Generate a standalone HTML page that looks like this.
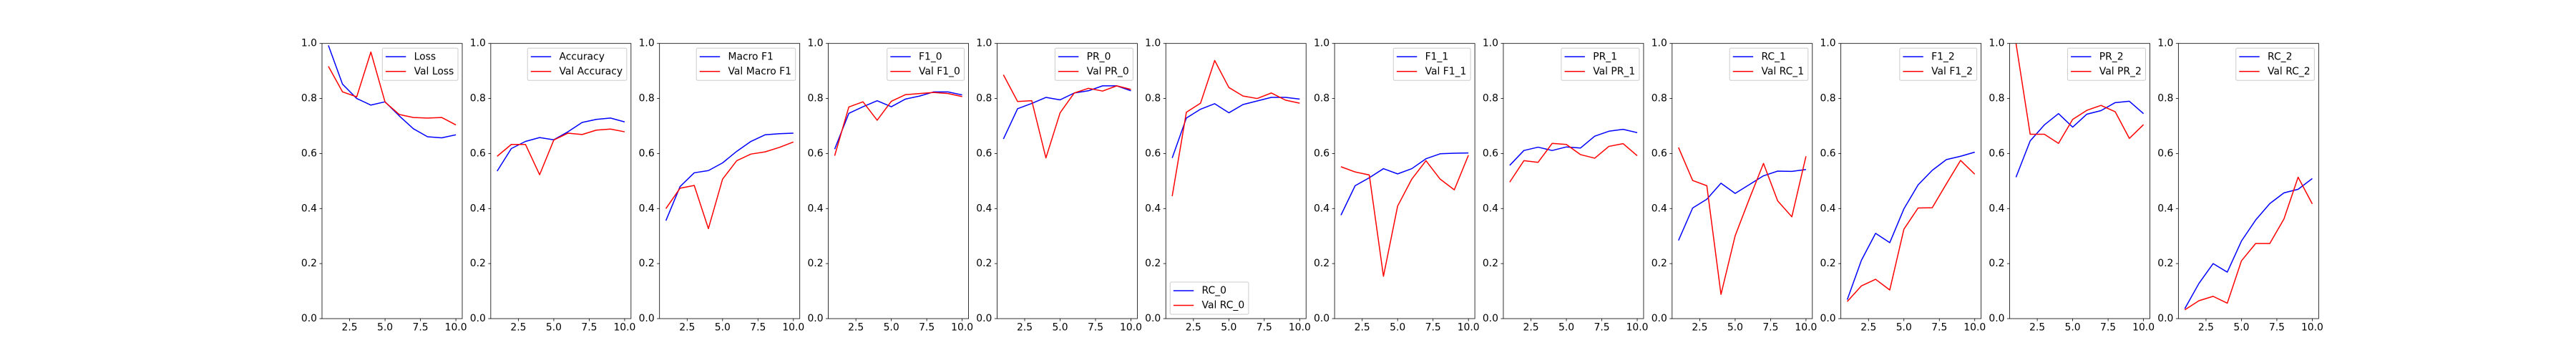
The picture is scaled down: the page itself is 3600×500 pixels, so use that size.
<!DOCTYPE html>
<html><head><meta charset="utf-8"><style>
html,body{margin:0;padding:0;background:#fff;}
svg{display:block;font-family:"DejaVu Sans","Liberation Sans",sans-serif;}
</style></head><body>
<svg id="chart" width="3600" height="500" viewBox="0 0 3600 500" xmlns="http://www.w3.org/2000/svg">
<rect x="0" y="0" width="3600" height="500" fill="#fff"/>
</svg>
<script>
const epochs = [1,2,3,4,5,6,7,8,9,10];
const panelNames = ["Loss","Accuracy","Macro F1","F1_0","PR_0","RC_0","F1_1","PR_1","RC_1","F1_2","PR_2","RC_2"];
const trainLoss = [0.993,0.852,0.800,0.776,0.788,0.737,0.690,0.661,0.657,0.668];
const valLoss = [0.917,0.824,0.806,0.969,0.787,0.742,0.731,0.729,0.731,0.704];
const trainAcc = [0.536,0.618,0.644,0.658,0.650,0.679,0.713,0.724,0.729,0.715];
const valAcc = [0.590,0.633,0.633,0.523,0.649,0.674,0.669,0.685,0.689,0.679];
const trainMacroF1 = [0.356,0.480,0.530,0.538,0.566,0.608,0.644,0.668,0.672,0.674];
const valMacroF1 = [0.400,0.474,0.484,0.327,0.507,0.574,0.598,0.606,0.622,0.642];
const trainF1_0 = [0.616,0.746,0.770,0.792,0.770,0.798,0.809,0.824,0.824,0.813];
const valF1_0 = [0.592,0.769,0.788,0.721,0.790,0.814,0.818,0.822,0.818,0.807];
const trainPR_0 = [0.653,0.763,0.782,0.804,0.795,0.820,0.828,0.846,0.846,0.828];
const valPR_0 = [0.886,0.789,0.792,0.584,0.748,0.820,0.837,0.827,0.846,0.833];
const trainRC_0 = [0.584,0.729,0.761,0.781,0.748,0.778,0.791,0.804,0.804,0.798];
const valRC_0 = [0.445,0.750,0.783,0.938,0.840,0.809,0.800,0.820,0.794,0.783];
const trainF1_1 = [0.376,0.483,0.512,0.545,0.526,0.545,0.581,0.599,0.601,0.602];
const valF1_1 = [0.552,0.533,0.522,0.154,0.409,0.507,0.574,0.507,0.468,0.594];
const trainPR_1 = [0.557,0.611,0.623,0.611,0.624,0.620,0.663,0.681,0.688,0.676];
const valPR_1 = [0.496,0.574,0.568,0.637,0.633,0.596,0.583,0.626,0.636,0.592];
const trainRC_1 = [0.284,0.402,0.434,0.492,0.455,0.487,0.519,0.536,0.535,0.542];
const valRC_1 = [0.622,0.502,0.483,0.088,0.301,0.435,0.564,0.428,0.370,0.590];
const trainF1_2 = [0.069,0.212,0.310,0.276,0.399,0.486,0.539,0.578,0.590,0.605];
const valF1_2 = [0.062,0.119,0.143,0.104,0.325,0.402,0.403,0.490,0.575,0.525];
const trainPR_2 = [0.514,0.646,0.704,0.745,0.696,0.743,0.756,0.785,0.790,0.745];
const valPR_2 = [1.000,0.670,0.670,0.637,0.724,0.757,0.775,0.752,0.655,0.705];
const trainRC_2 = [0.036,0.128,0.200,0.169,0.282,0.358,0.418,0.457,0.470,0.509];
const valRC_2 = [0.032,0.065,0.081,0.056,0.210,0.273,0.273,0.362,0.514,0.417];
const trainSeries = [trainLoss,trainAcc,trainMacroF1,trainF1_0,trainPR_0,trainRC_0,trainF1_1,trainPR_1,trainRC_1,trainF1_2,trainPR_2,trainRC_2];
const valSeries = [valLoss,valAcc,valMacroF1,valF1_0,valPR_0,valRC_0,valF1_1,valPR_1,valRC_1,valF1_2,valPR_2,valRC_2];
const yTicks = [0.0,0.2,0.4,0.6,0.8,1.0];
const yTickLabels = ["0.0","0.2","0.4","0.6","0.8","1.0"];
const xTicks = [2.5,5.0,7.5,10.0];
const xTickLabels = ["2.5","5.0","7.5","10.0"];
const legendLowerLeft = ["RC_0"];

const NS = "http://www.w3.org/2000/svg";
const svg = document.getElementById("chart");
function mk(tag, attrs, parent){const e=document.createElementNS(NS,tag);for(const k in attrs)e.setAttribute(k,attrs[k]);(parent||svg).appendChild(e);return e;}

const top0 = 60.7, bottom0 = 445, pw = 196, pitch = 235.85, left0 = 450;
const xmin = 0.55, xmax = 10.45, ymin = 0, ymax = 1;

panelNames.forEach((name, i) => {
  const L = left0 + i*pitch, R = L + pw;
  const xs = v => L + (v - xmin)/(xmax - xmin)*pw;
  const ys = v => bottom0 - (v - ymin)/(ymax - ymin)*(bottom0 - top0);
  const slug = name.toLowerCase().replace(/[^a-z0-9]+/g,'-');
  const g = mk("g", {});
  
  
  const clipId = "clip" + i;
  const cp = mk("clipPath", {id: clipId}, g);
  mk("rect", {x: L, y: top0, width: pw, height: bottom0 - top0}, cp);
  // y ticks
  yTicks.forEach((t, k) => {
    const y = ys(t);
    const tk = mk("line", {x1: L-3.5, x2: L, y1: y, y2: y, stroke: "#000", "stroke-width": 0.8}, g);
    
    
    const tx = mk("text", {x: L-7, y: y, "font-size": 13.9, "text-anchor": "end", "dominant-baseline": "central", fill: "#000"}, g);
    tx.textContent = yTickLabels[k];
    
    
  });
  xTicks.forEach((t, k) => {
    const x = xs(t);
    const tk = mk("line", {x1: x, x2: x, y1: bottom0, y2: bottom0+3.5, stroke: "#000", "stroke-width": 0.8}, g);
    
    
    const tx = mk("text", {x: x, y: bottom0+7, "font-size": 13.9, "text-anchor": "middle", "dominant-baseline": "hanging", fill: "#000"}, g);
    tx.textContent = xTickLabels[k];
    
    
  });
  const mkLine = (arr, color, nm) => {
    const p = mk("polyline", {points: arr.map((v, j) => xs(epochs[j]).toFixed(2)+","+ys(v).toFixed(2)).join(" "), fill: "none", stroke: color, "stroke-width": 1.5, "clip-path": "url(#"+clipId+")", "stroke-linejoin": "round"}, g);
    
    
  };
  mkLine(trainSeries[i], "#0000ff", 'line-' + slug);
  mkLine(valSeries[i], "#ff0000", 'line-val-' + slug);
  const frame = mk("rect", {x: L, y: top0, width: pw, height: bottom0 - top0, fill: "none", stroke: "#000", "stroke-width": 0.8}, g);
  
  
  // legend
  const lg = mk("g", {}, g);
  
  
  const box = mk("rect", {fill: "#fff", "fill-opacity": 0.8, stroke: "#ccc", "stroke-width": 1, rx: 2}, lg);
  const labels = [name, "Val " + name];
  const texts = labels.map((lab, r) => {
    const t = mk("text", {"font-size": 13.9, "dominant-baseline": "central", fill: "#000"}, lg);
    t.textContent = lab;
    
    
    return t;
  });
  let tw = Math.max(...texts.map(t => t.getComputedTextLength()));
  const bw = tw + 50, bh = 45;
  let bx, by;
  if (legendLowerLeft.includes(name)) { bx = L + 6; by = bottom0 - 6 - bh; }
  else { bx = R - 6 - bw; by = top0 + 6.6; }
  box.setAttribute("x", bx); box.setAttribute("y", by);
  box.setAttribute("width", bw); box.setAttribute("height", bh);
  ["#0000ff", "#ff0000"].forEach((c, r) => {
    const cy = by + 12 + r*20.5;
    const h = mk("line", {x1: bx+4.6, x2: bx+33, y1: cy, y2: cy, stroke: c, "stroke-width": 1.5}, lg);
    
    
    texts[r].setAttribute("x", bx + 44.3);
    texts[r].setAttribute("y", cy);
  });
});
</script>
</body></html>
